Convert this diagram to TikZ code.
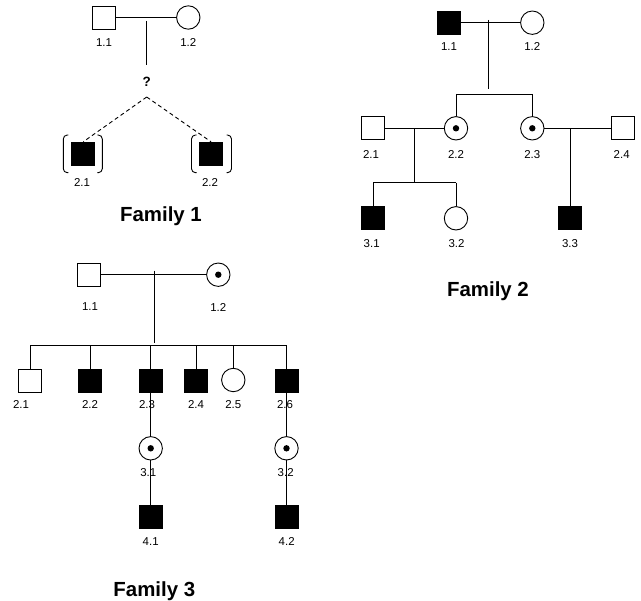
\documentclass[tikz,border=0pt]{standalone}
\usepackage{fontspec}
\setmainfont{Liberation Sans}
\begin{document}
\begin{tikzpicture}[x=1bp,y=-1bp,
  line width=0.9bp,
  sq/.style={draw,rectangle,minimum size=23bp,inner sep=0pt},
  ci/.style={draw,circle,minimum size=23.4bp,inner sep=0pt},
  aff/.style={sq,fill=black},
  car/.style={ci,path picture={\fill[black] (path picture bounding box.center) circle (3.2bp);}},
  lbl/.style={inner sep=0pt,font=\fontsize{11.5}{13}\selectfont},
  ttl/.style={inner sep=0pt,anchor=base,font=\fontsize{20.5}{24}\selectfont\bfseries},
  dsh/.style={dash pattern=on 4bp off 3bp},
  brk/.style={rounded corners=4bp}
]
\useasboundingbox (0,0) rectangle (641,601);

% ---------------- Family 1 ----------------
\node[sq] (f1a) at (104.2,17.5) {};
\node[ci] (f1b) at (188.3,17.5) {};
\draw (f1a) -- (f1b);
\node[lbl] (f1la) at (104,43) {1.1};
\node[lbl] (f1lb) at (188.3,43) {1.2};
\coordinate (f1m) at (146.7,21);
\coordinate (f1n) at (146.7,65);
\draw (f1m) -- (f1n);
\node[inner sep=0pt,font=\fontsize{13.5}{15}\selectfont\bfseries] (f1q) at (146.7,82) {?};
\coordinate (f1apex) at (146.7,97);
\node[aff] (f1c) at (83.3,153.7) {};
\node[aff] (f1d) at (211,153.7) {};
\draw[dsh] (f1apex) -- (f1c.north);
\draw[dsh] (f1apex) -- (f1d.north);
\draw[brk] ([shift={(-15,-18.7)}]f1c.center) -- ([shift={(-20,-18.7)}]f1c.center) -- ([shift={(-20,19)}]f1c.center) -- ([shift={(-15,19)}]f1c.center);
\draw[brk] ([shift={(14,-18.7)}]f1c.center) -- ([shift={(19,-18.7)}]f1c.center) -- ([shift={(19,19)}]f1c.center) -- ([shift={(14,19)}]f1c.center);
\draw[brk] ([shift={(-14.5,-18.7)}]f1d.center) -- ([shift={(-19.5,-18.7)}]f1d.center) -- ([shift={(-19.5,19)}]f1d.center) -- ([shift={(-14.5,19)}]f1d.center);
\draw[brk] ([shift={(15.5,-18.7)}]f1d.center) -- ([shift={(20.5,-18.7)}]f1d.center) -- ([shift={(20.5,19)}]f1d.center) -- ([shift={(15.5,19)}]f1d.center);
\node[lbl] (f1lc) at (82,182.8) {2.1};
\node[lbl] (f1ld) at (210,182.8) {2.2};
\node[ttl] (f1t) at (161,221.5) {Family 1};

% ---------------- Family 2 ----------------
\node[aff] (f2a) at (449,22.7) {};
\node[ci] (f2b) at (532.3,22.7) {};
\draw (f2a) -- (f2b);
\node[lbl] (f2la) at (449,47) {1.1};
\node[lbl] (f2lb) at (532.3,47) {1.2};
\coordinate (f2m) at (488.3,20);
\coordinate (f2n) at (488.3,89.3);
\draw (f2m) -- (f2n);
\coordinate (f2sl) at (456,94);
\coordinate (f2sr) at (532.3,94);
\node[car] (f2c) at (456,128.3) {};
\node[car] (f2d) at (532.3,128.3) {};
\draw (f2sl) -- (f2sr);
\draw (f2sl) -- (f2c);
\draw (f2sr) -- (f2d);
\node[sq] (f2e) at (373.3,128.3) {};
\node[sq] (f2f) at (622.7,128.3) {};
\draw (f2e) -- (f2c);
\draw (f2d) -- (f2f);
\node[lbl] (f2le) at (371,154.7) {2.1};
\node[lbl] (f2lc) at (456,154.7) {2.2};
\node[lbl] (f2ld) at (532.3,154.7) {2.3};
\node[lbl] (f2lf) at (621.7,154.7) {2.4};
\coordinate (f2p) at (414,128.3);
\coordinate (f2q) at (414,183.3);
\draw (f2p) -- (f2q);
\coordinate (f2tl) at (373.3,182.7);
\coordinate (f2tr) at (456,182.7);
\node[aff] (f2g) at (373.3,218.3) {};
\node[ci] (f2h) at (456,218.3) {};
\draw (f2tl) -- (f2tr);
\draw (f2tl) -- (f2g);
\draw (f2tr) -- (f2h);
\coordinate (f2r) at (570,128.3);
\node[aff] (f2i) at (570,218.3) {};
\draw (f2r) -- (f2i);
\node[lbl] (f2lg) at (371.7,244) {3.1};
\node[lbl] (f2lh) at (456.5,244) {3.2};
\node[lbl] (f2li) at (570,244) {3.3};
\node[ttl] (f2t) at (488,296.7) {Family 2};

% ---------------- Family 3 ----------------
\node[sq] (f3a) at (89.3,274.7) {};
\node[car] (f3b) at (218.3,274.7) {};
\draw (f3a) -- (f3b);
\node[lbl] (f3la) at (90,307) {1.1};
\node[lbl] (f3lb) at (218.3,307) {1.2};
\coordinate (f3m) at (154.3,270.7);
\coordinate (f3n) at (154.3,342.7);
\draw (f3m) -- (f3n);
\coordinate (f3d1) at (30,345.7);
\coordinate (f3d2) at (90,345.7);
\coordinate (f3d3) at (150.7,345.7);
\coordinate (f3d4) at (196,345.7);
\coordinate (f3d5) at (233.3,345.7);
\coordinate (f3d6) at (286.5,345.7);
\draw (f3d1) -- (f3d6);
\node[sq] (f3c1) at (30,380.5) {};
\node[aff] (f3c2) at (90,380.5) {};
\node[aff] (f3c3) at (150.7,380.5) {};
\node[aff] (f3c4) at (196,380.5) {};
\node[ci] (f3c5) at (233.3,380) {};
\node[aff] (f3c6) at (286.5,380.5) {};
\draw (f3d1) -- (f3c1);
\draw (f3d2) -- (f3c2);
\draw (f3d3) -- (f3c3);
\draw (f3d4) -- (f3c4);
\draw (f3d5) -- (f3c5);
\draw (f3d6) -- (f3c6);
\node[car] (f3g1) at (150.7,448.3) {};
\node[car] (f3g2) at (286.5,448.3) {};
\node[aff] (f3h1) at (150.7,516.7) {};
\node[aff] (f3h2) at (286.5,516.7) {};
\draw (f3c3) -- (f3g1);
\draw (f3g1) -- (f3h1);
\draw (f3c6) -- (f3g2);
\draw (f3g2) -- (f3h2);
\node[lbl] (f3l1) at (21,404.7) {2.1};
\node[lbl] (f3l2) at (90,404.7) {2.2};
\node[lbl] (f3l3) at (147,404.7) {2.3};
\node[lbl] (f3l4) at (196,404.7) {2.4};
\node[lbl] (f3l5) at (233.3,404.7) {2.5};
\node[lbl] (f3l6) at (285,404.7) {2.6};
\node[lbl] (f3l7) at (148.3,472.8) {3.1};
\node[lbl] (f3l8) at (285.7,472.8) {3.2};
\node[lbl] (f3l9) at (150.7,541.3) {4.1};
\node[lbl] (f3l10) at (286.7,541.3) {4.2};
\node[ttl] (f3t) at (154.3,596.3) {Family 3};
\end{tikzpicture}
\end{document}
